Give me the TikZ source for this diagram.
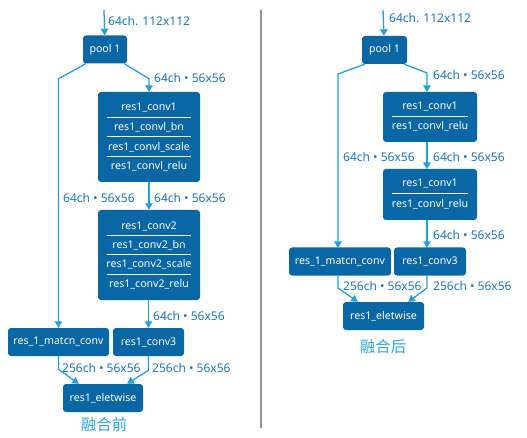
\documentclass[tikz,border=0pt]{standalone}
\usepackage{fontspec}
\setmainfont{Noto Sans}
\newfontfamily\cjk{Noto Sans CJK SC}
\usetikzlibrary{arrows.meta,positioning}
\definecolor{boxblue}{HTML}{0A67A6}
\definecolor{linkblue}{HTML}{22A0DC}
\definecolor{labblue}{HTML}{1C78BE}
\definecolor{capblue}{HTML}{2CA6E2}
\tikzset{
  box/.style={fill=boxblue, rounded corners=3pt, text=white, font=\fontsize{10.6}{12}\selectfont, inner sep=0pt, minimum height=28pt},
  blk/.style={fill=boxblue, rounded corners=3pt, inner sep=0pt},
  row/.style={text=white, font=\fontsize{10.6}{12}\selectfont, inner sep=0pt},
  sep/.style={white, line width=0.8pt},
  link/.style={linkblue, line width=1.3pt, -{Triangle[width=7.5pt,length=6.5pt]}},
  lab/.style={anchor=west, text=labblue, font=\fontsize{12}{14}\selectfont, inner sep=0pt},
  captxt/.style={text=capblue, font=\cjk\fontsize{15.5}{17}\selectfont, inner sep=0pt}
}

\begin{document}
\begin{tikzpicture}[x=1pt,y=-1pt]
  \useasboundingbox (0,0) rectangle (527,438);

  % before fusion
  \coordinate (inL) at (104,10);
  \node[box, minimum width=44pt] (poolL) at (105,49.5) {pool 1};
  \node[blk, minimum width=102pt, minimum height=90pt] (blkA) at (149,137) {};
  \node[row] (a1) at (149,108) {res1\_conv1};
  \node[row] (a2) at (149,127) {res1\_convl\_bn};
  \node[row] (a3) at (149,147) {res1\_convl\_scale};
  \node[row] (a4) at (149,166) {res1\_convl\_relu};
  \foreach \y in {117,136.5,156}
    \draw[sep] ([xshift=9pt]blkA.west |- 0,\y) -- ([xshift=-9pt]blkA.east |- 0,\y);
  \node[blk, minimum width=102pt, minimum height=90pt] (blkB) at (149,255) {};
  \node[row] (b1) at (149,226) {res1\_conv2};
  \node[row] (b2) at (149,245) {res1\_conv2\_bn};
  \node[row] (b3) at (149,264) {res1\_conv2\_scale};
  \node[row] (b4) at (149,284) {res1\_conv2\_relu};
  \foreach \y in {235,254.5,274}
    \draw[sep] ([xshift=9pt]blkB.west |- 0,\y) -- ([xshift=-9pt]blkB.east |- 0,\y);
  \node[box, minimum width=101pt] (matcnL) at (58.5,342) {res\_1\_matcn\_conv};
  \node[box, minimum width=71pt] (conv3L) at (148.5,342) {res1\_conv3};
  \node[box, minimum width=80pt] (eltL) at (103,398) {res1\_eletwise};
  \node[captxt] (capL) at (104,425) {融合前};

  \draw[link] (inL) -- (poolL);
  \draw[link] ([xshift=3pt]poolL.south west) -- ([yshift=-15pt]poolL.south west -| matcnL.north) -- (matcnL.north);
  \draw[link] ([xshift=-3pt]poolL.south east) -- ([yshift=-15pt]poolL.south east -| blkA.north) -- (blkA.north);
  \draw[link] (blkA) -- (blkB);
  \draw[link] (blkB.south -| conv3L.north) -- (conv3L.north);
  \draw[link] (matcnL.south) -- ++(0,13) -- ([xshift=16pt]eltL.north west);
  \draw[link] (conv3L.south) -- ++(0,14) -- ([xshift=-16pt]eltL.north east);
  \node[lab] (l1) at (108,21) {64ch. 112x112};
  \node[lab] (l2) at (154,78) {64ch • 56x56};
  \node[lab] (l3) at (63,198) {64ch • 56x56};
  \node[lab] (l4) at (154,198) {64ch • 56x56};
  \node[lab] (l5) at (153,316) {64ch • 56x56};
  \node[lab] (l6) at (62,368) {256ch • 56x56};
  \node[lab] (l7) at (152,368) {256ch • 56x56};

  % divider
  \draw[gray!85, line width=1.3pt] (261,10) -- (261,428);

  % after fusion
  \coordinate (inR) at (383,10);
  \node[box, minimum width=45pt] (poolR) at (384.5,50) {pool 1};
  \node[blk, minimum width=94pt, minimum height=50pt] (blkC) at (430,117) {};
  \node[row] (c1) at (430,107) {res1\_conv1};
  \node[row] (c2) at (430,126) {res1\_convl\_relu};
  \draw[sep] ([xshift=9pt]blkC.west |- 0,116) -- ([xshift=-9pt]blkC.east |- 0,116);
  \node[blk, minimum width=94pt, minimum height=51pt] (blkD) at (430,194.5) {};
  \node[row] (d1) at (430,184) {res1\_conv1};
  \node[row] (d2) at (430,204) {res1\_convl\_relu};
  \draw[sep] ([xshift=9pt]blkD.west |- 0,193.5) -- ([xshift=-9pt]blkD.east |- 0,193.5);
  \node[box, minimum width=102pt] (matcnR) at (340,261.5) {res\_1\_matcn\_conv};
  \node[box, minimum width=72pt] (conv3R) at (430,261.5) {res1\_conv3};
  \node[box, minimum width=81pt] (eltR) at (383.5,316) {res1\_eletwise};
  \node[captxt] (capR) at (383,347) {融合后};

  \draw[link] (inR) -- (poolR);
  \draw[link] ([xshift=3pt]poolR.south west) -- (338,74) -- (338,248);
  \draw[link] ([xshift=-3pt]poolR.south east) -- (427,73) -- (427,92);
  \draw[link] (427,142) -- (427,169);
  \draw[link] (427,220) -- (427,248);
  \draw[link] (338,275.5) -- (338,288) -- ([xshift=15pt]eltR.north west);
  \draw[link] (427,275.5) -- (427,288) -- ([xshift=-16pt]eltR.north east);
  \node[lab] (r1) at (389,18) {64ch. 112x112};
  \node[lab] (r2) at (433,75) {64ch • 56x56};
  \node[lab] (r3) at (343,157) {64ch • 56x56};
  \node[lab] (r4) at (433,157) {64ch • 56x56};
  \node[lab] (r5) at (433,235) {64ch • 56x56};
  \node[lab] (r6) at (343,286) {256ch • 56x56};
  \node[lab] (r7) at (433,286) {256ch • 56x56};
\end{tikzpicture}
\end{document}
